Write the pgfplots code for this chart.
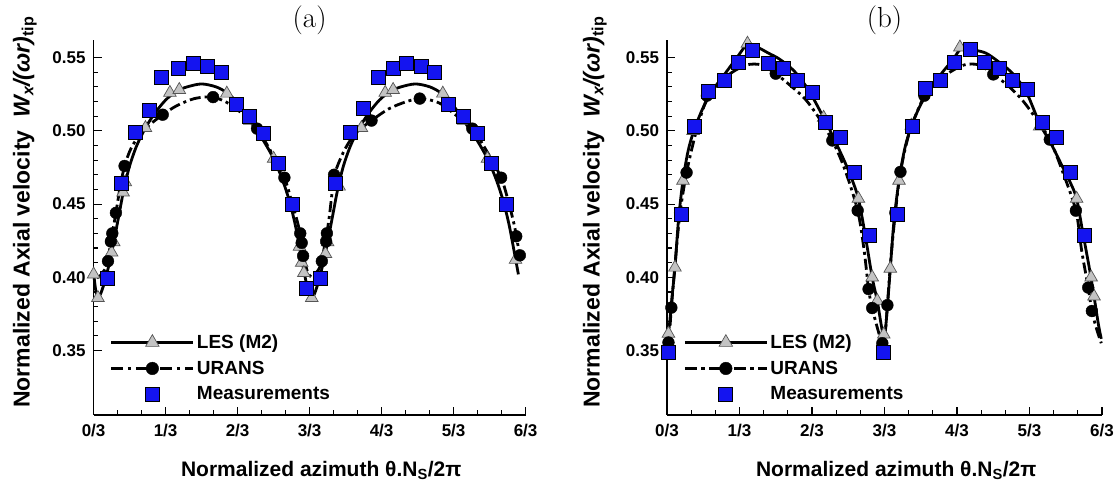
\documentclass[border=0pt]{standalone}
\usepackage{fontspec}
\usepackage{pgfplots}
\pgfplotsset{compat=1.18}
\newfontfamily\hv{Liberation Sans}
\definecolor{mblue}{RGB}{20,20,240}
\definecolor{lgray}{RGB}{195,195,195}
\definecolor{dgray}{RGB}{85,85,85}

\pgfplotsset{
  common/.style={
    scale only axis, height=375pt, anchor=south west,
    xmin=0, xmax=6, ymin=0.306, ymax=0.562,
    axis x line=bottom, axis y line=left,
    axis line style={-, line width=1.4pt},
    xtick={0,1,2,3,4,5,6}, xticklabels={0/3,1/3,2/3,3/3,4/3,5/3,6/3},
    minor x tick num=2,
    ytick={0.35,0.40,0.45,0.50,0.55}, yticklabels={0.35,0.40,0.45,0.50,0.55},
    minor y tick num=4,
    tick align=inside, major tick length=8pt, minor tick length=4.5pt,
    every tick/.style={black, line width=1.1pt},
    tick label style={font=\hv\bfseries\fontsize{17}{17}\selectfont},
    xticklabel style={yshift=-5.5pt},
    yticklabel style={xshift=-4.5pt},
    /pgf/number format/assume math mode=true,
    clip=false,
    xlabel={Normalized azimuth θ.N\textsubscript{S}/2π},
    ylabel={Normalized Axial velocity\ \ {\itshape W\textsubscript{x}/(ωr)}\textsubscript{tip}},
    every axis x label/.style={at={(axis description cs:0.527,-0.147)}, anchor=center,
      font=\hv\bfseries\fontsize{21}{21}\selectfont},
    title style={at={(axis description cs:0.5,1.036)}, anchor=center, font=\fontsize{29}{30}\selectfont},
    legend style={draw=none, fill=none, anchor=south west,
      font=\hv\bfseries\fontsize{19}{19}\selectfont,
      row sep=7pt, /tikz/every even column/.append style={column sep=12pt}},
    legend cell align=left,
  },
  lesline/.style={black, line width=2.8pt, smooth, no markers, forget plot},
  ransline/.style={black, line width=2.8pt, smooth, no markers, forget plot,
    dash pattern=on 11pt off 4pt on 3pt off 4pt},
  lesmark/.style={only marks, mark=triangle*, mark size=7.3pt,
    mark options={draw=dgray, fill=lgray, line width=0.7pt, solid},
    legend image code/.code={
      \path[draw=none, fill=none] (0pt,-7pt) rectangle (82pt,7pt);
      \draw[black, line width=3.2pt] (0pt,0pt) -- (82pt,0pt);
      \draw[dgray, fill=lgray, line width=0.7pt] plot[mark=triangle*, mark size=7.8pt] coordinates {(41pt,0pt)};}},
  ransmark/.style={only marks, mark=*, mark size=5.9pt,
    mark options={draw=black, fill=black, solid},
    legend image code/.code={
      \path[draw=none, fill=none] (0pt,-7pt) rectangle (82pt,7pt);
      \draw[black, line width=3.2pt, dash pattern=on 12pt off 4.5pt on 3.5pt off 4.5pt] (0pt,0pt) -- (82pt,0pt);
      \draw[black, fill=black] plot[mark=*, mark size=6.3pt] coordinates {(41pt,0pt)};}},
  expmark/.style={only marks, mark=square*, mark size=7pt,
    mark options={draw=black, fill=mblue, line width=0.8pt, solid},
    legend image code/.code={
      \path[draw=none, fill=none] (0pt,-7pt) rectangle (82pt,7pt);
      \draw[black, fill=mblue, line width=0.8pt] plot[mark=square*, mark size=7pt] coordinates {(41pt,0pt)};}},
}

\begin{document}
\begin{tikzpicture}
\path[use as bounding box] (0pt,0pt) rectangle (1117pt,487pt);

% ---------------- (a) ----------------
\begin{axis}[common, at={(93.6pt,72pt)}, width=432pt, title={(a)},
  every axis y label/.style={at={(axis description cs:-0.159,0.541)}, rotate=90, anchor=center,
    font=\hv\bfseries\fontsize{23}{23}\selectfont},
  legend style={at={(axis description cs:0.03,0.025)}}]
\addplot[lesline] coordinates {
(0.00,0.403)(0.03,0.391)(0.06,0.386)(0.10,0.389)(0.16,0.398)(0.22,0.410)(0.28,0.424)
(0.35,0.442)(0.42,0.460)(0.50,0.476)(0.60,0.490)(0.72,0.502)(0.85,0.512)(1.00,0.521)
(1.15,0.527)(1.30,0.530)(1.50,0.532)(1.70,0.530)(1.85,0.526)(2.00,0.519)(2.17,0.507)
(2.35,0.494)(2.50,0.481)(2.62,0.467)(2.72,0.452)(2.80,0.436)(2.87,0.418)(2.93,0.402)
(2.98,0.391)(3.03,0.386)(3.07,0.389)(3.13,0.398)(3.19,0.410)(3.25,0.424)(3.32,0.442)
(3.39,0.460)(3.47,0.476)(3.57,0.490)(3.69,0.502)(3.82,0.512)(3.97,0.521)(4.12,0.527)
(4.27,0.530)(4.47,0.532)(4.67,0.530)(4.82,0.526)(4.97,0.519)(5.14,0.507)(5.32,0.494)
(5.47,0.481)(5.59,0.467)(5.69,0.452)(5.77,0.436)(5.84,0.418)(5.90,0.402)};
\addplot[ransline] coordinates {
(0.00,0.404)(0.06,0.400)(0.12,0.403)(0.18,0.408)(0.24,0.424)(0.31,0.444)(0.37,0.462)
(0.43,0.476)(0.52,0.488)(0.65,0.498)(0.80,0.505)(0.96,0.511)(1.15,0.517)(1.40,0.522)
(1.66,0.523)(1.90,0.518)(2.10,0.510)(2.27,0.5015)(2.45,0.487)(2.65,0.468)(2.76,0.450)
(2.85,0.434)(2.91,0.416)(2.97,0.404)(3.03,0.400)(3.09,0.403)(3.15,0.408)(3.21,0.422)
(3.27,0.440)(3.34,0.468)(3.42,0.480)(3.52,0.490)(3.65,0.499)(3.86,0.507)(4.10,0.515)
(4.35,0.520)(4.55,0.522)(4.80,0.519)(5.05,0.510)(5.26,0.5015)(5.45,0.487)(5.66,0.468)
(5.77,0.450)(5.85,0.434)(5.90,0.420)(5.93,0.410)};
\addplot[lesmark] coordinates {
(0.00,0.402)(0.06,0.386)(0.25,0.417)(0.28,0.424)(0.41,0.458)(0.44,0.465)(0.72,0.502)
(1.06,0.526)(1.19,0.528)(1.85,0.5255)(2.17,0.507)(2.50,0.481)(2.86,0.421)(2.89,0.410)
(2.92,0.403)(3.03,0.386)(3.22,0.416)(3.25,0.424)(3.41,0.462)(3.72,0.502)(4.05,0.526)
(4.16,0.528)(4.85,0.5255)(5.14,0.507)(5.47,0.481)(5.86,0.412)};
\addlegendentry{LES (M2)}
\addplot[ransmark] coordinates {
(0.20,0.411)(0.24,0.4245)(0.26,0.430)(0.31,0.444)(0.43,0.476)(0.96,0.511)(1.66,0.523)
(2.27,0.5015)(2.65,0.468)(2.87,0.430)(2.89,0.4235)(2.91,0.4146)(3.17,0.411)(3.23,0.4245)
(3.24,0.430)(3.34,0.470)(3.86,0.507)(4.53,0.522)(5.26,0.5015)(5.66,0.468)(5.87,0.428)
(5.92,0.415)};
\addlegendentry{URANS}
\addplot[expmark] coordinates {
(0.19,0.399)(0.39,0.464)(0.58,0.499)(0.78,0.514)(0.94,0.5364)(1.18,0.5425)(1.38,0.546)
(1.58,0.544)(1.78,0.540)(1.98,0.518)(2.17,0.510)(2.36,0.498)(2.56,0.478)(2.76,0.450)
(2.96,0.3925)(3.15,0.399)(3.36,0.464)(3.57,0.499)(3.75,0.515)(3.95,0.5364)(4.16,0.5425)
(4.35,0.546)(4.55,0.544)(4.74,0.540)(4.93,0.518)(5.14,0.510)(5.33,0.498)(5.53,0.478)
(5.74,0.450)};
\addlegendentry{Measurements}
\end{axis}

% ---------------- (b) ----------------
\begin{axis}[common, at={(667pt,72pt)}, width=435pt, title={(b)},
  every axis y label/.style={at={(axis description cs:-0.166,0.541)}, rotate=90, anchor=center,
    font=\hv\bfseries\fontsize{23}{23}\selectfont},
  legend style={at={(axis description cs:0.03,0.025)}}]
\addplot[lesline] coordinates {
(0.00,0.358)(0.03,0.366)(0.07,0.387)(0.11,0.407)(0.16,0.440)(0.22,0.466)(0.29,0.486)
(0.37,0.500)(0.50,0.516)(0.65,0.529)(0.80,0.539)(0.95,0.549)(1.11,0.559)(1.25,0.557)
(1.40,0.553)(1.55,0.549)(1.75,0.541)(1.95,0.528)(2.16,0.509)(2.30,0.495)(2.45,0.479)
(2.55,0.467)(2.64,0.4537)(2.73,0.430)(2.83,0.400)(2.90,0.384)(2.96,0.366)(3.00,0.359)
(3.04,0.380)(3.08,0.406)(3.13,0.438)(3.20,0.466)(3.28,0.488)(3.37,0.503)(3.50,0.518)
(3.65,0.530)(3.80,0.540)(3.95,0.549)(4.06,0.556)(4.25,0.555)(4.40,0.553)(4.55,0.548)
(4.75,0.540)(4.95,0.527)(5.14,0.505)(5.30,0.491)(5.45,0.476)(5.56,0.465)(5.65,0.4537)
(5.73,0.432)(5.83,0.405)(5.89,0.387)(5.95,0.368)(5.99,0.358)};
\addplot[ransline] coordinates {
(0.00,0.352)(0.03,0.360)(0.06,0.379)(0.12,0.414)(0.18,0.444)(0.27,0.4715)(0.40,0.499)
(0.55,0.522)(0.70,0.532)(0.90,0.540)(1.10,0.545)(1.30,0.545)(1.50,0.539)(1.70,0.531)
(1.90,0.522)(2.08,0.510)(2.28,0.4934)(2.45,0.474)(2.63,0.4456)(2.72,0.418)(2.78,0.392)
(2.83,0.379)(2.91,0.364)(2.97,0.355)(3.01,0.362)(3.04,0.381)(3.09,0.414)(3.15,0.444)
(3.22,0.472)(3.35,0.500)(3.55,0.524)(3.70,0.533)(3.90,0.540)(4.10,0.545)(4.30,0.545)
(4.50,0.5385)(4.70,0.531)(4.90,0.521)(5.08,0.509)(5.28,0.494)(5.45,0.473)(5.64,0.4455)
(5.72,0.418)(5.81,0.393)(5.86,0.377)(5.93,0.364)(5.99,0.355)};
\addplot[lesmark] coordinates {
(0.02,0.3616)(0.11,0.4067)(0.22,0.466)(0.36,0.500)(1.11,0.5596)(2.16,0.509)(2.64,0.4537)
(2.83,0.400)(2.90,0.384)(2.99,0.361)(3.08,0.406)(3.20,0.466)(3.37,0.5036)(4.04,0.557)
(5.14,0.503)(5.65,0.4537)(5.85,0.400)(5.89,0.387)};
\addlegendentry{LES (M2)}
\addplot[ransmark] coordinates {
(0.02,0.3555)(0.06,0.3793)(0.18,0.444)(0.27,0.4715)(0.55,0.524)(1.50,0.539)(2.28,0.4934)
(2.63,0.4456)(2.78,0.392)(2.83,0.379)(2.97,0.355)(3.04,0.381)(3.15,0.444)(3.22,0.472)
(3.55,0.524)(4.50,0.5385)(5.28,0.494)(5.64,0.4455)(5.81,0.393)(5.86,0.377)};
\addlegendentry{URANS}
\addplot[expmark] coordinates {
(0.02,0.3486)(0.20,0.4432)(0.38,0.5027)(0.57,0.527)(0.79,0.5345)(0.99,0.5466)(1.18,0.5552)
(1.40,0.546)(1.60,0.5426)(1.80,0.5345)(2.00,0.526)(2.19,0.506)(2.39,0.4952)(2.59,0.4716)
(2.79,0.4283)(2.98,0.349)(3.18,0.4432)(3.38,0.5027)(3.57,0.529)(3.77,0.5345)(3.97,0.5466)
(4.18,0.5556)(4.38,0.547)(4.58,0.5426)(4.77,0.5345)(4.97,0.528)(5.18,0.506)(5.37,0.4952)
(5.56,0.4716)(5.76,0.4283)};
\addlegendentry{Measurements}
\end{axis}
\end{tikzpicture}
\end{document}
